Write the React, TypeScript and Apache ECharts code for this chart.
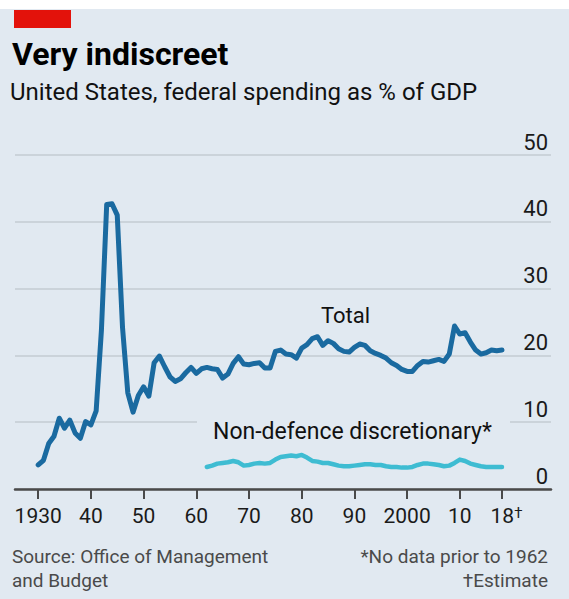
import React, { useEffect, useRef } from "react";
import * as echarts from "echarts";

// ---- data ----
const totalStartYear = 1930;
const totalSpending = [
  3.6, 4.3, 6.8, 7.9, 10.6, 9.1, 10.3, 8.4, 7.6, 10.1,
  9.6, 11.7, 23.8, 42.6, 42.7, 41.0, 24.2, 14.4, 11.5, 14.0,
  15.3, 13.9, 18.9, 19.9, 18.3, 16.8, 16.1, 16.5, 17.4, 18.2,
  17.3, 18.0, 18.2, 18.0, 17.9, 16.6, 17.2, 18.8, 19.8, 18.7,
  18.6, 18.8, 18.9, 18.1, 18.1, 20.6, 20.8, 20.2, 20.1, 19.6,
  21.1, 21.6, 22.5, 22.8, 21.5, 22.2, 21.8, 21.0, 20.6, 20.5,
  21.2, 21.7, 21.5, 20.7, 20.3, 20.0, 19.6, 18.9, 18.5, 17.9,
  17.6, 17.6, 18.5, 19.1, 19.0, 19.2, 19.4, 19.1, 20.2, 24.4,
  23.2, 23.4, 22.0, 20.8, 20.2, 20.4, 20.8, 20.7, 20.8,
];
const nonDefenceStartYear = 1962;
const nonDefence = [
  3.3, 3.5, 3.8, 3.9, 4.0, 4.2, 4.0, 3.5, 3.6, 3.8,
  3.9, 3.8, 3.9, 4.4, 4.8, 4.9, 5.0, 4.9, 5.1, 4.7,
  4.2, 4.1, 3.9, 3.9, 3.7, 3.5, 3.4, 3.4, 3.5, 3.6,
  3.7, 3.7, 3.6, 3.6, 3.4, 3.3, 3.3, 3.2, 3.2, 3.3,
  3.6, 3.8, 3.8, 3.7, 3.6, 3.4, 3.5, 3.9, 4.4, 4.2,
  3.8, 3.6, 3.4, 3.3, 3.3, 3.3, 3.3,
];
const xTickYears = [1930, 1940, 1950, 1960, 1970, 1980, 1990, 2000, 2010, 2018];
const xTickLabels = ["1930", "40", "50", "60", "70", "80", "90", "2000", "10", "18"];
const yTicks = [0, 10, 20, 30, 40, 50];

const FONT = 'Roboto, "Noto Sans", sans-serif';
const BG = "#e1e9f1";

export default function App() {
  const ref = useRef<HTMLDivElement>(null);

  useEffect(() => {
    document.body.style.margin = "0";
    if (!ref.current) return;
    const chart = echarts.init(ref.current, undefined, { renderer: "svg" });

    const totalData = totalSpending.map((v, i) => [totalStartYear + i, v]);
    const ndData = nonDefence.map((v, i) => [nonDefenceStartYear + i, v]);

    const option: any = {
      animation: false,
      backgroundColor: BG,
      grid: { left: 15, right: 18, top: 155, bottom: 110, containLabel: false },
      xAxis: {
        type: "value",
        min: 1925.6,
        max: 2027.3,
        axisLine: { show: true, lineStyle: { color: "#4a4a4a", width: 2.5 } },
        axisTick: {
          show: true,
          customValues: xTickYears,
          length: 10,
          lineStyle: { color: "#4a4a4a", width: 2 },
        },
        axisLabel: {
          customValues: xTickYears,
          margin: 16,
          color: "#1a1a1a",
          fontFamily: FONT,
          fontSize: 21,
          formatter: (val: number) => {
            const idx = xTickYears.indexOf(val);
            const lab = idx >= 0 ? xTickLabels[idx] : "";
            if (val === 2018) return "{n|" + lab + "}{d|†}";
            return lab;
          },
          rich: {
            n: { fontFamily: FONT, fontSize: 21, color: "#1a1a1a", lineHeight: 21, padding: [0, 0, 0, 9] },
            d: { fontFamily: FONT, fontSize: 15, color: "#1a1a1a", lineHeight: 15, verticalAlign: "top" },
          },
        },
        splitLine: { show: false },
      },
      yAxis: {
        type: "value",
        position: "right",
        min: 0,
        max: 50,
        interval: 10,
        axisLine: { show: false },
        axisTick: { show: false },
        axisLabel: {
          inside: true,
          margin: 3,
          verticalAlign: "bottom",
          lineHeight: 22,
          padding: [0, 0, 2, 0],
          color: "#1a1a1a",
          fontFamily: FONT,
          fontSize: 22,
          formatter: (v: number) => (yTicks.includes(v) ? String(v) : ""),
        },
        splitLine: { show: true, lineStyle: { color: "#c3cbd2", width: 1.5 } },
      },
      series: [
        {
          name: "Non-defence discretionary",
          type: "line",
          data: ndData,
          showSymbol: false,
          lineStyle: { color: "#3ebcd2", width: 4.5, cap: "round", join: "round" },
          z: 3,
        },
        {
          name: "Total",
          type: "line",
          data: totalData,
          showSymbol: false,
          lineStyle: { color: "#1a6aa0", width: 5, cap: "round", join: "round" },
          z: 4,
        },
      ],
      graphic: [
        { type: "rect", z: 50, shape: { x: 0, y: 0, width: 569, height: 9 }, style: { fill: "#ffffff" } },
        { type: "rect", z: 50, shape: { x: 14, y: 10, width: 57, height: 18 }, style: { fill: "#e3120b" } },
        {
          type: "text", z: 50, x: 12, y: 54,
          style: { text: "Very indiscreet", font: `bold 32px ${FONT}`, fill: "#000000", verticalAlign: "middle" },
        },
        {
          type: "text", z: 50, x: 10, y: 91.5,
          style: { text: "United States, federal spending as % of GDP", font: `24px ${FONT}`, fill: "#111111", verticalAlign: "middle" },
        },
        { type: "rect", z: 50, shape: { x: 197, y: 418, width: 313, height: 8 }, style: { fill: BG } },
        {
          type: "text", z: 51, x: 321, y: 315.5,
          style: { text: "Total", font: `22px ${FONT}`, fill: "#111111", verticalAlign: "middle" },
        },
        {
          type: "text", z: 51, x: 213, y: 431,
          style: { text: "Non-defence discretionary*", font: `23px ${FONT}`, fill: "#111111", verticalAlign: "middle" },
        },
        {
          type: "text", z: 50, x: 12, y: 556.5,
          style: { text: "Source: Office of Management", font: `19px ${FONT}`, fill: "#4a4a4a", verticalAlign: "middle" },
        },
        {
          type: "text", z: 50, x: 12, y: 580.5,
          style: { text: "and Budget", font: `19px ${FONT}`, fill: "#4a4a4a", verticalAlign: "middle" },
        },
        {
          type: "text", z: 50, x: 548, y: 556.5,
          style: { text: "*No data prior to 1962", font: `19px ${FONT}`, fill: "#4a4a4a", align: "right", verticalAlign: "middle" },
        },
        {
          type: "text", z: 50, x: 548, y: 580.5,
          style: { text: "†Estimate", font: `19px ${FONT}`, fill: "#4a4a4a", align: "right", verticalAlign: "middle" },
        },
      ],
    };

    chart.setOption(option);
    return () => chart.dispose();
  }, []);

  return <div ref={ref} style={{ width: 569, height: 599 }} />;
}
